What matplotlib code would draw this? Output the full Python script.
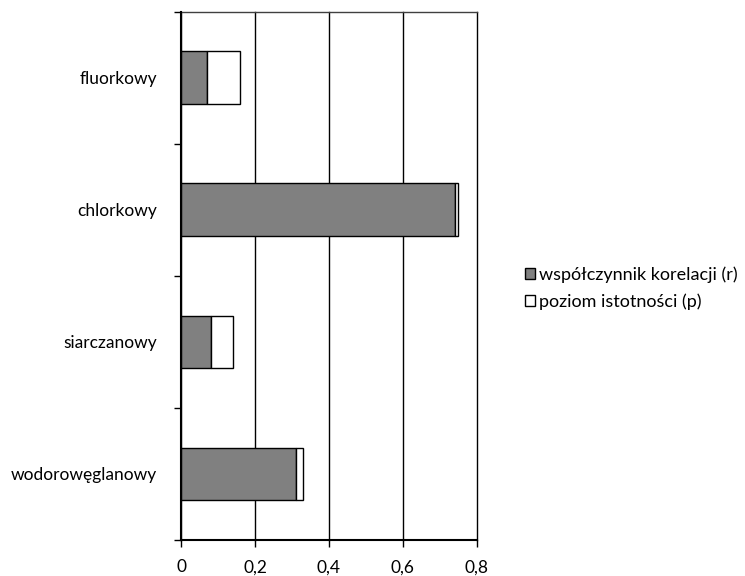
import numpy as np
import matplotlib
matplotlib.use("Agg")
import matplotlib.pyplot as plt

plt.rcParams['font.family'] = ['Lato', 'DejaVu Sans']

categories = ['wodorowęglanowy', 'siarczanowy', 'chlorkowy', 'fluorkowy']
r_values = [0.31, 0.08, 0.74, 0.07]
p_values = [0.02, 0.06, 0.01, 0.09]
xticks = [0, 0.2, 0.4, 0.6, 0.8]
xtick_labels = ['0', '0,2', '0,4', '0,6', '0,8']

fig = plt.figure(figsize=(7.45, 5.76), dpi=100)
ax = fig.add_axes([0.243, 0.0625, 0.397, 0.917])

y = np.arange(len(categories))
h = 0.4
ax.barh(y, r_values, height=h, color='#808080', edgecolor='black', linewidth=1,
        label='współczynnik korelacji (r)', zorder=3)
ax.barh(y, p_values, left=r_values, height=h, color='white', edgecolor='black',
        linewidth=1, label='poziom istotności (p)', zorder=3)

ax.set_xlim(0, 0.8)
ax.set_ylim(-0.5, len(categories) - 0.5)
ax.set_xticks(xticks)
ax.set_xticklabels(xtick_labels, fontsize=12.5)
ax.set_yticks(y)
ax.set_yticklabels(categories, fontsize=12.5)
ax.set_yticks(np.arange(-0.5, len(categories)), minor=True)
ax.tick_params(axis='y', which='major', length=0, pad=17)
ax.tick_params(axis='y', which='minor', length=5, width=1, direction='out')
ax.tick_params(axis='x', length=5, width=1, direction='out', pad=9)
ax.grid(axis='x', color='black', linewidth=1, zorder=0)
for gl in ax.get_xgridlines():
    gl.set_clip_on(False)

ax.spines['right'].set_visible(False)
ax.spines['top'].set_linewidth(1)
ax.spines['top'].set_color('#404040')
ax.spines['left'].set_linewidth(1.5)
ax.spines['bottom'].set_linewidth(1.5)
ax.spines['left'].set_zorder(4)

fig.legend(loc='center left', bbox_to_anchor=(0.683, 0.50), frameon=False,
           fontsize=13, handlelength=0.55, handleheight=0.55, handletextpad=0.2,
           labelspacing=0.6)

plt.savefig('out.png', dpi=100)
